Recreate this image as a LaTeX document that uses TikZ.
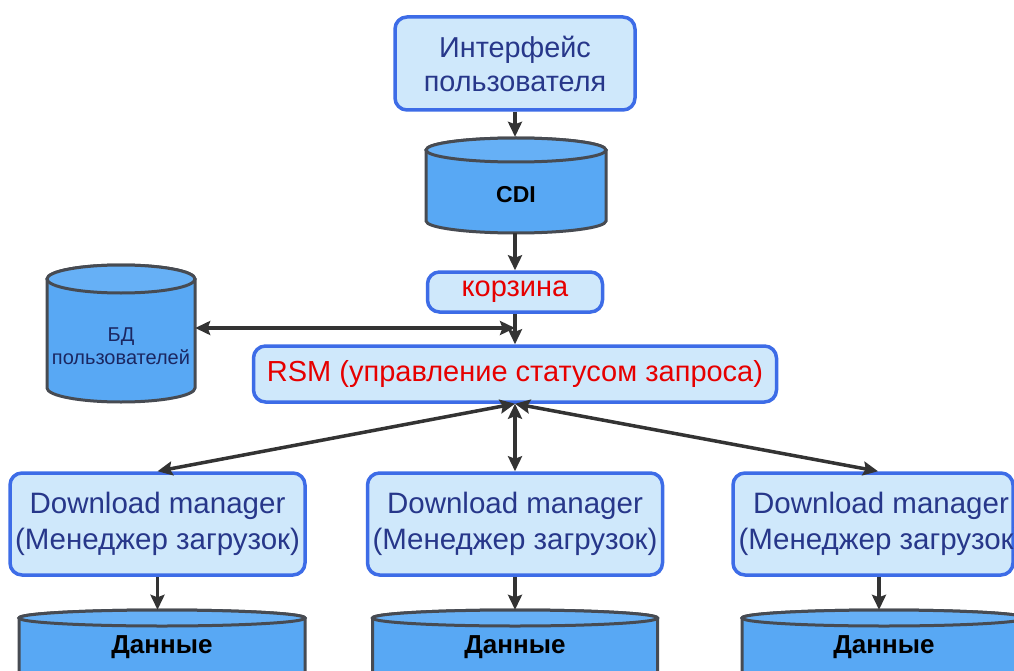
\documentclass[tikz,border=0pt]{standalone}
\usepackage{fontspec}
\setmainfont{Liberation Sans}
\usetikzlibrary{arrows.meta}
\definecolor{boxfill}{HTML}{CFE8FB}
\definecolor{boxdraw}{HTML}{3D6CE7}
\definecolor{navy}{HTML}{27378A}
\definecolor{cylfill}{HTML}{58A8F4}
\definecolor{cyltop}{HTML}{66B0F6}
\definecolor{cyldraw}{HTML}{474B52}
\definecolor{arr}{HTML}{333333}
\definecolor{redtxt}{HTML}{E60000}
\newcommand\dbcyl[5]{%
 \path[fill=cylfill,draw=cyldraw,line width=3] ({#1-#2},#3) -- ({#1-#2},#4) arc[start angle=180,end angle=0,x radius=#2,y radius=#5] -- ({#1+#2},#3) arc[start angle=0,end angle=-180,x radius=#2,y radius=#5] -- cycle;
 \path[fill=cyltop,draw=cyldraw,line width=3] (#1,#3) ellipse[x radius=#2,y radius=#5];
}
\tikzset{
 box/.style={rectangle, rounded corners=12, fill=boxfill, draw=boxdraw, line width=3.5, inner sep=0, align=center},
 span/.style={rectangle, inner sep=0},
 conn/.style={draw=arr, line width=3.5, >={Stealth[length=15pt,width=14pt,inset=2.5pt]}},
 bigtxt/.style={font=\fontsize{29.5}{36}\selectfont, text=navy},
 redlab/.style={font=\fontsize{29}{34}\selectfont, text=redtxt},
 cyllab/.style={font=\fontsize{23}{27}\selectfont\bfseries, text=black},
 datalab/.style={font=\fontsize{26}{30}\selectfont\bfseries, text=black},
}
\begin{document}
\begin{tikzpicture}[x=1pt,y=-1pt]
\useasboundingbox (0,0) rectangle (1014,671);
\clip (0,0) rectangle (1014,671);
\fill[white] (0,0) rectangle (1014,671);

% UI box
\node[box, bigtxt, font=\fontsize{28.8}{34}\selectfont, minimum width=240, minimum height=93] (ui) at (515,63.5) {Интерфейс\\пользователя};

% CDI cylinder
\dbcyl{516}{90}{150}{221}{12}
\node[span, minimum width=180, minimum height=96] (cdi) at (515,185) {};
\node[cyllab] (cditext) at (516,195) {CDI};

% korzina
\node[box, redlab, minimum width=175, minimum height=40] (korz) at (515,292) {корзина};

% RSM
\node[box, redlab, minimum width=523, minimum height=56] (rsm) at (515,374) {RSM (управление статусом запроса)};

% BD cylinder
\dbcyl{121}{74}{279}{388}{14}
\node[span, minimum width=148, minimum height=130] (bd) at (121,328) {};
\node[font=\fontsize{20}{23}\selectfont, text=navy!70!black, align=center] (bdtext) at (121,346) {БД\\пользователей};

% Download managers
\node[box, bigtxt, minimum width=295, minimum height=102] (dm1) at (157.5,524) {Download manager\\(Менеджер загрузок)};
\node[box, bigtxt, minimum width=295, minimum height=102] (dm2) at (515,524) {Download manager\\(Менеджер загрузок)};
\node[box, minimum width=280, minimum height=102] (dm3) at (873,524) {};
\node[bigtxt, align=center] (dm3text) at (881,524) {Download manager\\(Менеджер загрузок)};

% Data cylinders
\dbcyl{162}{143}{618}{720}{8}
\dbcyl{515}{142.5}{618}{720}{8}
\dbcyl{884}{142}{618}{720}{8}
\node[span, minimum width=286, minimum height=80] (data1) at (162,650) {};
\node[span, minimum width=285, minimum height=80] (data2) at (515,650) {};
\node[span, minimum width=284, minimum height=80] (data3) at (884,650) {};
\node[datalab] (d1text) at (162,647) {Данные};
\node[datalab] (d2text) at (515,647) {Данные};
\node[datalab] (d3text) at (884,647) {Данные};

% connectors
\draw[conn,->] (ui.south) -- (cdi.north);
\draw[conn,->] (cdi.south) -- (korz.north);
\draw[conn,->] (korz.south) -- (rsm.north);
\draw[conn,<->] (bd.east) -- (bd.east -| korz.south);
\draw[conn,<->] (rsm.south) -- (dm1.north);
\draw[conn,<->] (rsm.south) -- (dm2.north);
\draw[conn,<->] (rsm.south) -- ([xshift=5pt]dm3.north);
\draw[conn,->] (dm1.south) -- (dm1.south |- data1.north);
\draw[conn,->] (dm2.south) -- (data2.north);
\draw[conn,->] ([xshift=6pt]dm3.south) -- ([xshift=6pt]dm3.south |- data3.north);
\end{tikzpicture}
\end{document}
